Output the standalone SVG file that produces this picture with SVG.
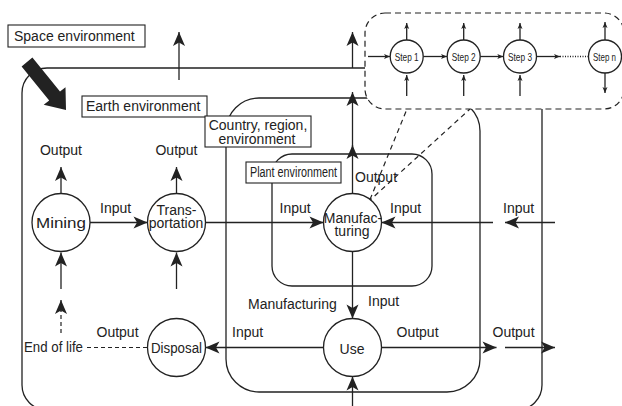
<svg xmlns="http://www.w3.org/2000/svg" width="622" height="406" viewBox="0 0 622 406">
<defs>
<style>
.ln{fill:none;stroke:#222;stroke-width:1.3}
.box{fill:none;stroke:#222;stroke-width:1.3}
.lab{fill:#fff;stroke:#222;stroke-width:1.1}
.dash{fill:none;stroke:#222;stroke-width:1.2;stroke-dasharray:5 4}
.node{fill:#fff;stroke:#222;stroke-width:1.3}
text{font-family:"Liberation Sans",Arial,sans-serif;fill:#222;font-size:14px}
.c{text-anchor:middle}
.st{font-size:11.5px;text-anchor:middle}
</style>
<marker id="ah" markerUnits="userSpaceOnUse" markerWidth="16" markerHeight="14" refX="14" refY="6" orient="auto" overflow="visible">
<path d="M0,0 L14,6 L0,12 L3.5,6 Z" fill="#222"/>
</marker>
<marker id="sa" markerUnits="userSpaceOnUse" markerWidth="8" markerHeight="6" refX="6" refY="2.5" orient="auto" overflow="visible">
<path d="M0,0 L6,2.5 L0,5 L1.5,2.5 Z" fill="#222"/>
</marker>
</defs>

<g id="earth-environment">
<rect class="box" x="22" y="68" width="520" height="342" rx="25"/>
</g>
<g id="country-environment">
<rect class="box" x="226" y="98" width="254" height="294" rx="33"/>
</g>
<g id="plant-environment">
<rect class="box" x="272" y="154" width="160" height="132" rx="20"/>
</g>

<g id="connectors">
<line class="ln" x1="179" y1="80" x2="179" y2="32" marker-end="url(#ah)"/>
<line class="ln" x1="352.5" y1="68" x2="352.5" y2="32" marker-end="url(#ah)"/>
<line class="ln" x1="352.5" y1="193.5" x2="352.5" y2="145" marker-end="url(#ah)"/>
<line class="ln" x1="352.5" y1="156" x2="352.5" y2="92" marker-end="url(#ah)"/>
<line class="ln" x1="61" y1="193.5" x2="61" y2="167" marker-end="url(#ah)"/>
<line class="ln" x1="176.5" y1="193.5" x2="176.5" y2="167" marker-end="url(#ah)"/>
<line class="ln" x1="61" y1="289" x2="61" y2="252.5" marker-end="url(#ah)"/>
<line class="ln" x1="176.5" y1="289" x2="176.5" y2="252.5" marker-end="url(#ah)"/>
<line class="ln" x1="61" y1="312" x2="61" y2="300" marker-end="url(#ah)"/>
<line class="dash" x1="61" y1="333" x2="61" y2="312" style="stroke-dasharray:4 3"/>
<line class="dash" x1="87" y1="347.5" x2="147.5" y2="347.5" style="stroke-dasharray:4 3"/>
<line class="ln" x1="90" y1="222.5" x2="147.5" y2="222.5" marker-end="url(#ah)"/>
<line class="ln" x1="205.5" y1="222.5" x2="323.5" y2="222.5" marker-end="url(#ah)"/>
<line class="ln" x1="493" y1="222.5" x2="381.5" y2="222.5" marker-end="url(#ah)"/>
<line class="ln" x1="555" y1="222.5" x2="505" y2="222.5" marker-end="url(#ah)"/>
<line class="ln" x1="352.5" y1="251.5" x2="352.5" y2="318.5" marker-end="url(#ah)"/>
<line class="ln" x1="323.5" y1="347.5" x2="205.5" y2="347.5" marker-end="url(#ah)"/>
<line class="ln" x1="381.5" y1="347.5" x2="496.5" y2="347.5" marker-end="url(#ah)"/>
<line class="ln" x1="505" y1="347.5" x2="555" y2="347.5" marker-end="url(#ah)"/>
<line class="ln" x1="352.5" y1="406" x2="352.5" y2="376.5" marker-end="url(#ah)"/>
<line class="dash" x1="370" y1="199.5" x2="407" y2="109"/>
<line class="dash" x1="368" y1="202" x2="470" y2="109"/>
</g>

<g id="process-steps">
<rect x="365" y="13" width="259" height="96" rx="20" fill="#fff" stroke="#222" stroke-width="1.2" stroke-dasharray="6 4"/>
<g class="step-arrows">
<line class="ln" x1="368" y1="56.5" x2="390" y2="56.5" stroke-width="1" marker-end="url(#sa)"/>
<line class="ln" x1="423.2" y1="56.5" x2="447" y2="56.5" stroke-width="1" marker-end="url(#sa)"/>
<line class="ln" x1="480.2" y1="56.5" x2="503.3" y2="56.5" stroke-width="1" marker-end="url(#sa)"/>
<line class="ln" x1="536.5" y1="56.5" x2="560" y2="56.5" stroke-width="1" marker-end="url(#sa)"/>
<line class="ln" x1="560" y1="56.5" x2="588.5" y2="56.5" stroke-width="1" stroke-dasharray="1 1.5"/>
<line class="ln" x1="406.7" y1="40" x2="406.7" y2="23" stroke-width="1" marker-end="url(#sa)"/>
<line class="ln" x1="463.7" y1="40" x2="463.7" y2="23" stroke-width="1" marker-end="url(#sa)"/>
<line class="ln" x1="520" y1="40" x2="520" y2="23" stroke-width="1" marker-end="url(#sa)"/>
<line class="ln" x1="605" y1="40" x2="605" y2="22" stroke-width="1" marker-end="url(#sa)"/>
<line class="ln" x1="406.7" y1="96" x2="406.7" y2="75" stroke-width="1" marker-end="url(#sa)"/>
<line class="ln" x1="463.7" y1="96" x2="463.7" y2="75" stroke-width="1" marker-end="url(#sa)"/>
<line class="ln" x1="520" y1="96" x2="520" y2="75" stroke-width="1" marker-end="url(#sa)"/>
<line class="ln" x1="605" y1="73" x2="605" y2="93" stroke-width="1" marker-end="url(#sa)"/>
</g>
<g id="step-1"><circle class="node" cx="406.7" cy="56.5" r="16.5" stroke-width="1.1"/><text class="st" x="406.7" y="61" textLength="24" lengthAdjust="spacingAndGlyphs">Step 1</text></g>
<g id="step-2"><circle class="node" cx="463.7" cy="56.5" r="16.5" stroke-width="1.1"/><text class="st" x="463.7" y="61" textLength="24" lengthAdjust="spacingAndGlyphs">Step 2</text></g>
<g id="step-3"><circle class="node" cx="520" cy="56.5" r="16.5" stroke-width="1.1"/><text class="st" x="520" y="61" textLength="24" lengthAdjust="spacingAndGlyphs">Step 3</text></g>
<g id="step-n"><circle class="node" cx="605" cy="56.5" r="16.5" stroke-width="1.1"/><text class="st" x="604.5" y="61" textLength="23" lengthAdjust="spacingAndGlyphs">Step n</text></g>
</g>

<g id="space-environment">
<rect class="lab" x="8" y="25" width="137" height="22"/>
<text x="14" y="41">Space environment</text>
<path d="M32.4,57.6 L60,91.6 L65.5,87.2 L66,110 L43.7,104.8 L49.2,100.4 L21.6,66.4 Z" fill="#222"/>
</g>
<g id="earth-label">
<rect class="lab" x="82" y="96" width="125" height="21"/>
<text x="86" y="111">Earth environment</text>
</g>
<g id="country-label">
<rect class="lab" x="205" y="116" width="106" height="31"/>
<text class="c" font-size="13.5"><tspan x="258" y="130">Country, region,</tspan><tspan x="257" y="143.5">environment</tspan></text>
</g>
<g id="plant-label">
<rect class="lab" x="246" y="162" width="95" height="21"/>
<text x="250" y="177" font-size="13" textLength="87" lengthAdjust="spacingAndGlyphs">Plant environment</text>
</g>

<g id="mining">
<circle class="node" cx="61" cy="222.5" r="29"/>
<text class="c" x="61" y="228" font-size="17" textLength="50" lengthAdjust="spacingAndGlyphs">Mining</text>
</g>
<g id="transportation">
<circle class="node" cx="176.5" cy="222.5" r="29"/>
<text class="c" font-size="13.5"><tspan x="176.5" y="215">Trans-</tspan><tspan x="176" y="228">portation</tspan></text>
</g>
<g id="manufacturing">
<circle class="node" cx="352.5" cy="222.5" r="29"/>
<text class="c" font-size="13.5"><tspan x="353" y="222.5">Manufac-</tspan><tspan x="352" y="236">turing</tspan></text>
</g>
<g id="use">
<circle class="node" cx="352.5" cy="347.5" r="29"/>
<text class="c" x="352" y="354" font-size="17.5">Use</text>
</g>
<g id="disposal">
<circle class="node" cx="176.5" cy="347.5" r="29"/>
<text class="c" x="176.5" y="353" font-size="15.5" textLength="51" lengthAdjust="spacingAndGlyphs">Disposal</text>
</g>

<g id="labels">
<text class="c" x="61" y="155">Output</text>
<text class="c" x="176.5" y="155">Output</text>
<text x="100" y="213">Input</text>
<text x="279.5" y="213">Input</text>
<text x="390" y="213">Input</text>
<text x="503" y="213">Input</text>
<text x="355" y="182">Output</text>
<text x="248" y="309">Manufacturing</text>
<text x="368" y="306">Input</text>
<text x="232" y="337">Input</text>
<text x="396.5" y="337">Output</text>
<text x="492.5" y="337">Output</text>
<text x="96.5" y="337">Output</text>
<text x="24" y="352" font-size="13.5" textLength="59" lengthAdjust="spacingAndGlyphs">End of life</text>
</g>
</svg>
